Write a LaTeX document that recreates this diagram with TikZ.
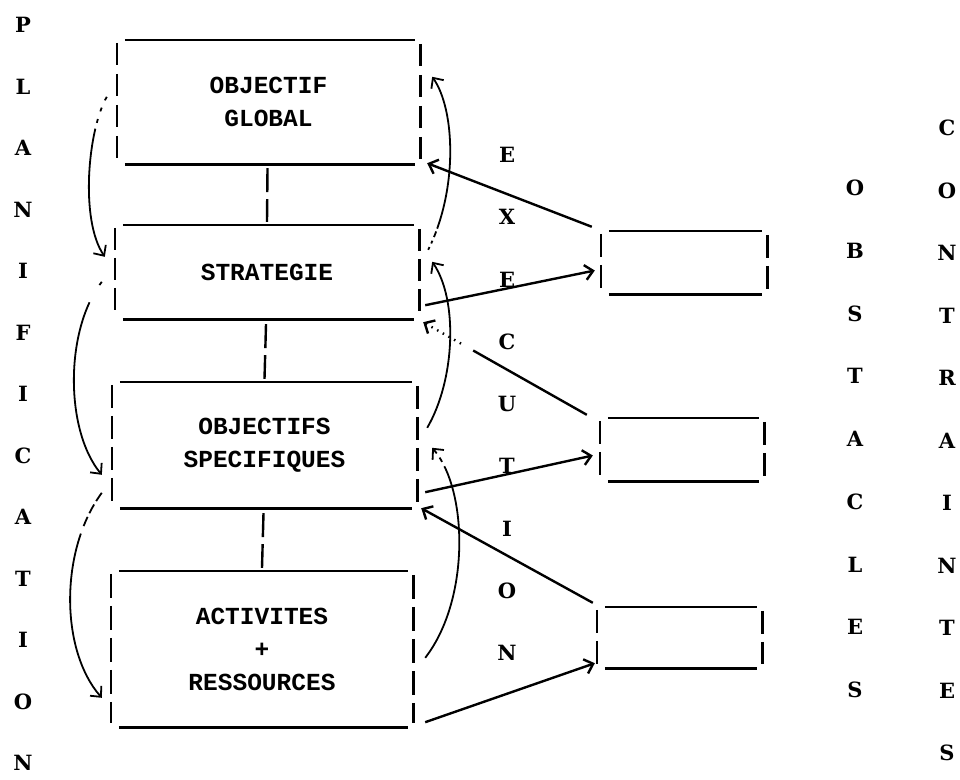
\documentclass[tikz,border=0pt]{standalone}
\usepackage{fontspec}
\setmonofont{Liberation Mono}
\newfontfamily\colfont{DejaVu Serif}
\usetikzlibrary{arrows.meta,calc}
\tikzset{
  boxnode/.style={rectangle, inner sep=0pt, align=center, font=\ttfamily\bfseries\fontsize{24.5}{33}\selectfont},
  colletter/.style={inner sep=0pt, font=\colfont\bfseries\fontsize{21}{21}\selectfont},
  hline/.style={line width=2.6pt},
  vline/.style={line width=2.6pt},
  vconn/.style={line width=2.4pt, dash pattern=on 24pt off 7pt},
  arr/.style={line width=2.4pt},
  crv/.style={line width=1.8pt},
  >={Straight Barb[length=8pt,width=15pt]}
}
\newcommand{\myframe}[3]{%
  \draw[hline] ($(#1.north west)+(8,0)$) -- ($(#1.north east)+(-5,0)$);
  \draw[hline] ($(#1.south west)+(8,0)$) -- ($(#1.south east)+(-5,0)$);
  \draw[vline, dash pattern=on #2 off #3] ($(#1.north west)+(0,3)$) -- ($(#1.south west)+(0,-4)$);
  \draw[vline, dash pattern=on #2 off #3] ($(#1.north east)+(0,4)$) -- ($(#1.south east)+(0,-4)$);
}
\begin{document}
\begin{tikzpicture}[x=1pt,y=-1pt]
\useasboundingbox (0,0) rectangle (960,779);

% main boxes
\node[boxnode, minimum width=303pt, minimum height=124pt] (b1) at (268.5,102) {OBJECTIF\\GLOBAL};
\node[boxnode, minimum width=304pt, minimum height=94pt] (b2) at (267,272) {STRATEGIE};
\node[boxnode, minimum width=305pt, minimum height=126pt] (b3) at (264.5,445) {OBJECTIFS\\SPECIFIQUES};
\node[boxnode, minimum width=302pt, minimum height=156pt] (b4) at (262,649) {ACTIVITES\\+\\RESSOURCES};
\myframe{b1}{22pt}{9pt}
\myframe{b2}{22pt}{8pt}
\myframe{b3}{23pt}{8pt}
\myframe{b4}{24pt}{8pt}

% small boxes
\node[boxnode, minimum width=166pt, minimum height=63pt] (sA) at (684,262.5) {};
\node[boxnode, minimum width=164pt, minimum height=63pt] (sB) at (682,449.5) {};
\node[boxnode, minimum width=165pt, minimum height=61pt] (sC) at (679.5,637.5) {};
\myframe{sA}{23pt}{8pt}
\myframe{sB}{23pt}{8pt}
\myframe{sC}{23pt}{8pt}

% vertical links between boxes
\draw[vconn] ($(b1.south)+(-1,4)$) -- ($(b2.north)+(0,-3)$);
\draw[vconn] ($(b2.south)+(-1,5)$) -- ($(b3.north)+(0,-3)$);
\draw[vconn] ($(b3.south)+(-1,5)$) -- ($(b4.north)+(0,-3)$);

% straight arrows
\draw[arr,->] ($(sA.north west)+(-9,-4)$) -- ($(b1.south east)+(7,-1)$);
\draw[arr,->] ($(b2.south east)+(6,-14)$) -- ($(sA.west)+(-6,8)$);
\draw[arr,<-, dash pattern=on 1.5pt off 5pt on 1.5pt off 5pt on 1.5pt off 5pt on 1.5pt off 5pt on 1.5pt off 5pt on 1.5pt off 5pt on 1.5pt off 14pt on 500pt] ($(b2.south east)+(4,3)$) -- ($(sB.north west)+(-13,-3)$);
\draw[arr,->] ($(b3.south east)+(8,-16)$) -- ($(sB.west)+(-7,6)$);
\draw[arr,->] ($(sC.north west)+(-4,-4)$) -- ($(b3.south east)+(4,0)$);
\draw[arr,->] ($(b4.south east)+(12,-5)$) -- ($(sC.south west)+(-2,-5)$);

% right feedback curves
\draw[crv,->, dash pattern=on 3pt off 4pt on 3pt off 4pt on 6pt off 3pt on 500pt] ($(b2.north east)+(9,25)$) .. controls +(30,-60) and +(23,33) .. ($(b1.north east)+(12,37)$);
\draw[crv,->] ($(b3.north east)+(10,46)$) .. controls +(28,-48) and +(26,38) .. ($(b2.north east)+(13,37)$);
\draw[crv,<-, dash pattern=on 5pt off 5pt on 5pt off 5pt on 500pt] ($(b3.north east)+(15,66)$) .. controls +(36,42) and +(45,-58) .. ($(b4.north east)+(12,87)$);

% left planning curves
\draw[crv,->, dash pattern=on 4pt off 8pt on 4pt off 8pt on 4pt off 6pt on 500pt] ($(b1.north west)+(-10,57)$) .. controls +(-19,33) and +(-25,-37) .. ($(b2.north west)+(-10,32)$);
\draw[crv,->, dash pattern=on 4pt off 20pt on 500pt] ($(b2.north west)+(-13,57)$) .. controls +(-37,48) and +(-37,-45) .. ($(b3.north west)+(-10,93)$);
\draw[crv,->, dash pattern=on 10pt off 4pt on 10pt off 4pt on 10pt off 8pt on 500pt] ($(b3.north west)+(-10,111)$) .. controls +(-42,57) and +(-42,-48) .. ($(b4.north west)+(-9,127)$);

% vertical words
\foreach \ch [count=\i from 0] in {P,L,A,N,I,F,I,C,A,T,I,O,N}
  \node[colletter] (plan\i) at (23,{25+61.5*\i}) {\ch};
\foreach \ch [count=\i from 0] in {E,X,E,C,U,T,I,O,N}
  \node[colletter] (exec\i) at (507,{155+62.25*\i}) {\ch};
\foreach \ch [count=\i from 0] in {O,B,S,T,A,C,L,E,S}
  \node[colletter] (obst\i) at (855,{188+62.75*\i}) {\ch};
\foreach \ch [count=\i from 0] in {C,O,N,T,R,A,I,N,T,E,S}
  \node[colletter] (cont\i) at (947,{128+62.5*\i}) {\ch};
\end{tikzpicture}
\end{document}
